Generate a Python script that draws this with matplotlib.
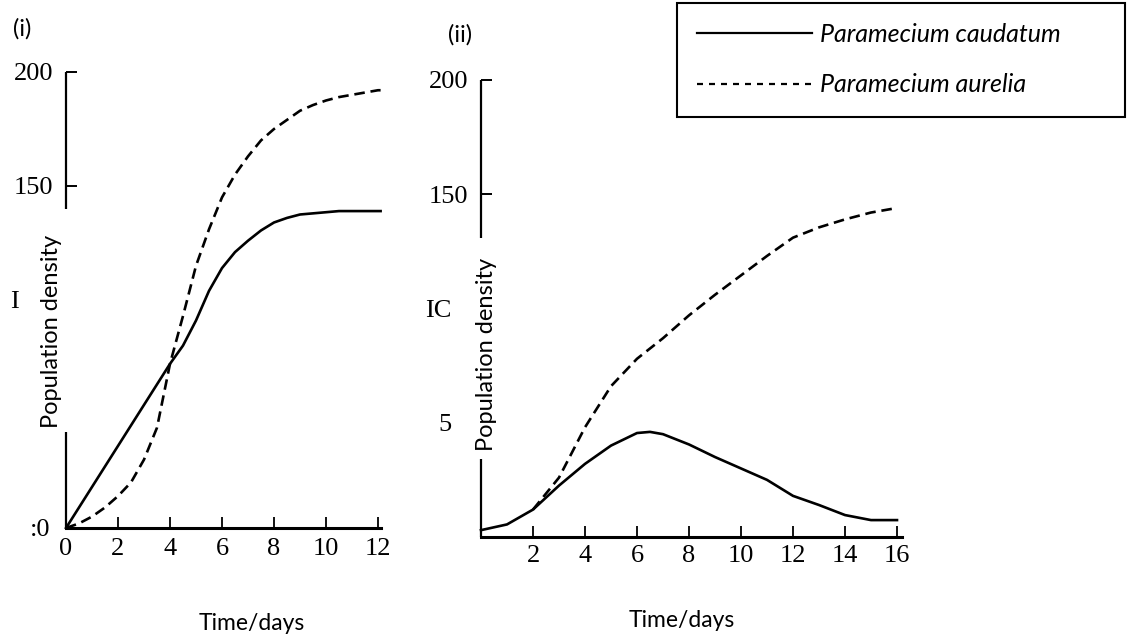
import matplotlib
matplotlib.use('Agg')
import matplotlib.pyplot as plt
from matplotlib.lines import Line2D

SANS = ['Lato', 'DejaVu Sans']
SERIF = ['Liberation Serif', 'DejaVu Serif']

# ===== data =====
# panel (i): grown together, both level off
days_i = [0, 0.5, 1, 1.5, 2, 2.5, 3, 3.5, 4, 4.5, 5, 5.5, 6, 6.5, 7, 7.5, 8,
          8.5, 9, 9.5, 10, 10.5, 11, 11.5, 12, 12.1]
caudatum_i = [0, 9, 18, 27, 36, 45, 54, 63, 72, 80, 91, 104, 114, 121, 126, 130.5, 134,
              136, 137.5, 138, 138.5, 139, 139, 139, 139, 139]
aurelia_i = [0, 2, 5, 9, 14, 20, 30, 44, 72, 93, 115, 131, 145, 155, 163, 170, 175,
             179, 183, 185.5, 187.5, 189, 190, 191, 192, 192]

# panel (ii): grown in competition
days_ii = [0, 1, 2, 3, 4, 5, 6, 6.5, 7, 8, 9, 10, 11, 12, 13, 14, 15, 16]
caudatum_ii = [3, 5.5, 12, 22.5, 32, 40, 45.5, 46, 45, 40.5, 35, 30, 25, 18, 14, 9.6, 7.4, 7.4]
days_ii_aur = [2, 3, 4, 5, 6, 7, 8, 9, 10, 11, 12, 13, 14, 15, 16]
aurelia_ii = [12, 26, 48, 66, 78, 87, 97, 106, 114.5, 123, 131, 135.5, 139, 142, 144]

xticks_i = [0, 2, 4, 6, 8, 10, 12]
xticks_ii = [2, 4, 6, 8, 10, 12, 14, 16]
yticks_i = [0, 100, 150, 200]
ylabels_i = [':0', 'I', '150', '200']
yticks_ii = [50, 100, 150, 200]
ylabels_ii = ['5', 'IC', '150', '200']
# pieces of the y axis line that survived in the scan
yaxis_parts_i = [(0, 42), (140, 200)]
yaxis_parts_ii = [(0, 34), (131, 200)]

W, H = 1133, 638
fig = plt.figure(figsize=(W / 100, H / 100), dpi=100)


def px_axes(x0, y_bottom, w, h):
    return fig.add_axes([x0 / W, 1 - y_bottom / H, w / W, h / H])


ax1 = px_axes(66, 528, 12.1 * 26, 456)
ax2 = px_axes(481, 537, 16.2 * 26, 457)

ax1.plot(days_i, caudatum_i, color='black', lw=1.9, clip_on=False)
ax1.plot(days_i, aurelia_i, color='black', lw=1.9, dashes=(4, 2.2), clip_on=False)
ax2.plot(days_ii, caudatum_ii, color='black', lw=1.9, clip_on=False)
ax2.plot(days_ii_aur, aurelia_ii, color='black', lw=1.9, dashes=(4, 2.2), clip_on=False)

for ax, xmax, xt, yt, yl, parts, xpad in [
        (ax1, 12.1, xticks_i, yticks_i, ylabels_i, yaxis_parts_i, 7),
        (ax2, 16.2, xticks_ii, yticks_ii, ylabels_ii, yaxis_parts_ii, 6)]:
    ax.set_xlim(0, xmax)
    ax.set_ylim(0, 200)
    for s in ['top', 'right', 'left']:
        ax.spines[s].set_visible(False)
    ax.spines['bottom'].set_linewidth(2.2)
    for lo, hi in parts:
        ax.vlines(0, lo, hi, color='black', lw=1.6, clip_on=False)
    ax.set_xticks(xt)
    ax.set_xticklabels([str(v) for v in xt], family=SERIF, fontsize=19)
    ax.tick_params(axis='x', direction='in', length=8, width=1.3, pad=xpad)
    ax.set_yticks(yt)
    ax.set_yticklabels(yl, family=SERIF, fontsize=19)
    ax.tick_params(axis='y', direction='in', length=8, width=1.4, pad=9)
    ax.set_xlabel('Time/days', family=SANS, fontsize=16.5)
    ax.set_ylabel('Population density', family=SANS, fontsize=17)
    ax.yaxis.label.set_verticalalignment('center')
    ax.patch.set_visible(False)

# damaged tick labels sit further left and have no tick line
t = ax1.yaxis.get_major_ticks()
t[0].tick1line.set_visible(False)
t[0].set_pad(11)
t[1].tick1line.set_visible(False)
t[1].set_pad(34)
t = ax2.yaxis.get_major_ticks()
for k in (0, 1):
    t[k].tick1line.set_visible(False)
    t[k].set_pad(21)

ax1.xaxis.set_label_coords(0.591, -0.186)
ax2.xaxis.set_label_coords(0.477, -0.16)
ax1.yaxis.set_label_coords(-0.045, 0.43)
ax2.yaxis.set_label_coords(0.013, 0.40)

fig.text(22 / W, 1 - 29 / H, '(i)', family=SANS, fontsize=17, ha='center', va='center')
fig.text(460 / W, 1 - 35 / H, '(ii)', family=SANS, fontsize=17, ha='center', va='center')

handles = [Line2D([], [], color='black', lw=1.6),
           Line2D([], [], color='black', lw=1.6, dashes=(2.7, 2.7))]
leg = fig.legend(handles, ['Paramecium caudatum', 'Paramecium aurelia'],
                 loc='upper left', bbox_to_anchor=(677 / W, 1 - 120 / H, 448 / W, 117 / H),
                 mode='expand', prop={'family': SANS, 'style': 'italic', 'size': 18},
                 handlelength=4.6, handletextpad=0.3, labelspacing=1.1, borderpad=0.8,
                 borderaxespad=0, fancybox=False, framealpha=1)
leg.get_frame().set_edgecolor('black')
leg.get_frame().set_linewidth(1.5)

fig.savefig('out.png', dpi=100)
